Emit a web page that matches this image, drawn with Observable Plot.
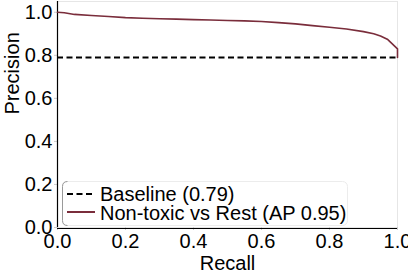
<!DOCTYPE html>
<html>
<head>
<meta charset="utf-8">
<script src="https://cdn.jsdelivr.net/npm/d3@7"></script>
<script src="https://cdn.jsdelivr.net/npm/@observablehq/plot@0.6"></script>
<style>
  html, body { margin: 0; padding: 0; background: #fff; }
  #wrap { position: relative; width: 408px; height: 270px; overflow: hidden; font-family: "Liberation Sans", Arial, sans-serif; }
  #legend { position: absolute; left: 0; top: 0; pointer-events: none; }
</style>
</head>
<body>
<div id="wrap"></div>
<script>
const recall = [0, 0.02, 0.05, 0.1, 0.15, 0.2, 0.25, 0.3, 0.35, 0.4, 0.45, 0.5, 0.55, 0.6, 0.65, 0.7, 0.75, 0.8, 0.85, 0.9, 0.93, 0.95, 0.97, 0.98, 0.99, 1.0, 1.0];
const precision = [1.0, 0.998, 0.99, 0.985, 0.98, 0.975, 0.972, 0.97, 0.968, 0.966, 0.964, 0.962, 0.96, 0.957, 0.952, 0.946, 0.938, 0.93, 0.922, 0.91, 0.9, 0.89, 0.875, 0.86, 0.845, 0.83, 0.79];
const baseline = 0.79;
const ap = 0.95;
const ticks = [0, 0.2, 0.4, 0.6, 0.8, 1.0];
const seriesLabel = "Non-toxic vs Rest";
const curveColor = "#7a2d3b";

const curve = recall.map((r, i) => ({recall: r, precision: precision[i]}));

const chart = Plot.plot({
  width: 408,
  height: 270,
  marginLeft: 57,
  marginRight: 11,
  marginTop: 1,
  marginBottom: 43,
  style: {fontFamily: "'Liberation Sans', Arial, sans-serif", fontSize: "20px", background: "#fff", overflow: "visible"},
  x: {domain: [0, 1]},
  y: {domain: [0, 1.05]},
  marks: [
    Plot.frame({stroke: "#e6e6e6"}),
    Plot.axisX({ticks, tickFormat: d3.format(".1f"), tickSize: 3, stroke: "#ccc", tickPadding: 3, fontSize: 20, label: null}),
    Plot.axisY({ticks, tickFormat: d3.format(".1f"), tickSize: 3, stroke: "#ccc", tickPadding: 2, fontSize: 20, label: null}),
    Plot.text(["Recall"], {frameAnchor: "bottom", dy: 42, fontSize: 20, lineAnchor: "bottom"}),
    Plot.text(["Precision"], {frameAnchor: "left", dx: -45, rotate: -90, fontSize: 20}),
    Plot.ruleX([0], {stroke: "#000", strokeWidth: 1.2}),
    Plot.ruleY([0], {stroke: "#000", strokeWidth: 1.2, dy: 1}),
    Plot.ruleY([baseline], {x1: 0, x2: 1, stroke: "#000", strokeWidth: 2, strokeDasharray: "6,3.5"}),
    Plot.line(curve, {x: "recall", y: "precision", stroke: curveColor, strokeWidth: 1.6})
  ]
});

const wrap = document.getElementById("wrap");
wrap.appendChild(chart);

// Legend overlay (SVG)
const ns = "http://www.w3.org/2000/svg";
const lg = document.createElementNS(ns, "svg");
lg.setAttribute("id", "legend");
lg.setAttribute("width", 408);
lg.setAttribute("height", 270);
lg.innerHTML = `
  <rect x="62.5" y="181.5" width="285" height="44" rx="5" fill="none" stroke="#ececec" stroke-width="1"/>
  <path d="M67.5,181.5 Q62.5,181.5 62.5,186.5 L62.5,220.5 Q62.5,225.5 67.5,225.5" fill="none" stroke="#9a9a9a" stroke-width="1"/>
  <line x1="67" y1="194" x2="95" y2="194" stroke="#000" stroke-width="2" stroke-dasharray="6,3.5"/>
  <text x="100" y="201" font-size="20" font-family="'Liberation Sans', Arial, sans-serif" fill="#000">Baseline (${baseline.toFixed(2)})</text>
  <line x1="67" y1="212" x2="95" y2="212" stroke="${curveColor}" stroke-width="2"/>
  <text x="100" y="220" font-size="20" font-family="'Liberation Sans', Arial, sans-serif" fill="#000">${seriesLabel} (AP ${ap.toFixed(2)})</text>`;
wrap.appendChild(lg);
</script>
</body>
</html>
